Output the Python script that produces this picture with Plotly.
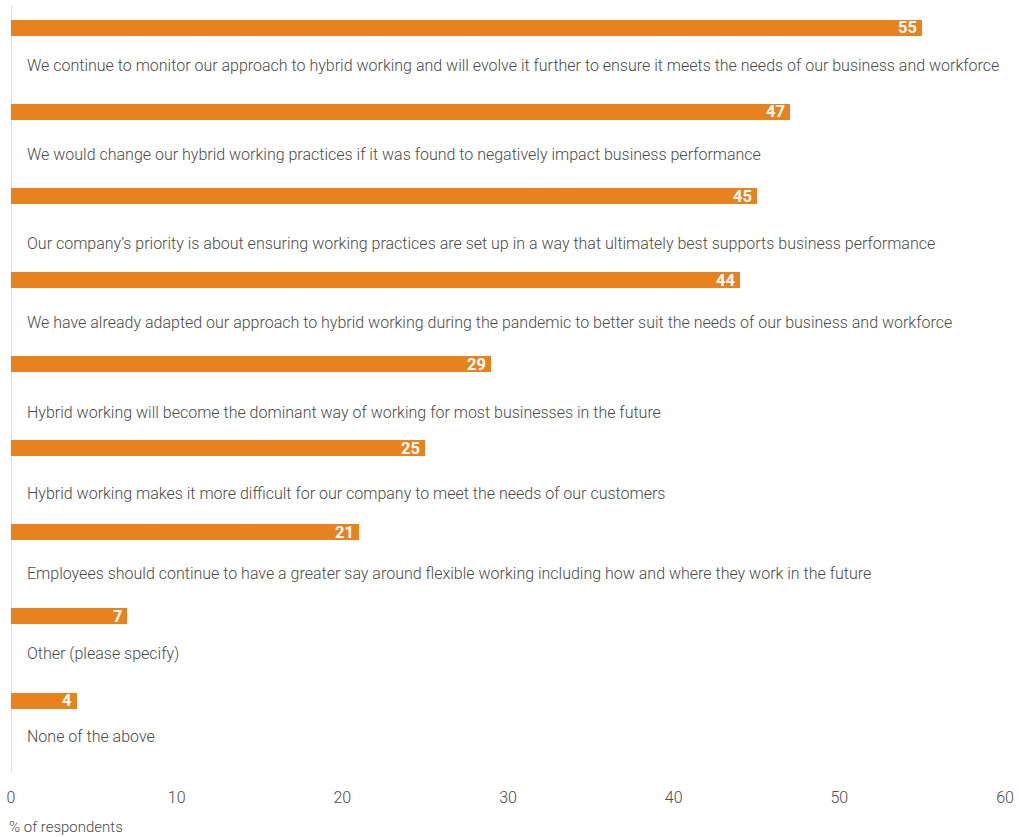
import plotly.graph_objects as go

statements = [
    "We continue to monitor our approach to hybrid working and will evolve it further to ensure it meets the needs of our business and workforce",
    "We would change our hybrid working practices if it was found to negatively impact business performance",
    "Our company\u2019s priority is about ensuring working practices are set up in a way that ultimately best supports business performance",
    "We have already adapted our approach to hybrid working during the pandemic to better suit the needs of our business and workforce",
    "Hybrid working will become the dominant way of working for most businesses in the future",
    "Hybrid working makes it more difficult for our company to meet the needs of our customers",
    "Employees should continue to have a greater say around flexible working including how and where they work in the future",
    "Other (please specify)",
    "None of the above",
]
respondents_pct = [55, 47, 45, 44, 29, 25, 21, 7, 4]
x_ticks = [0, 10, 20, 30, 40, 50, 60]

# vertical gap (px) between each bar and the statement printed beneath it
label_gap_px = [38, 43, 47, 42, 48, 45, 41, 37, 36]

BAR_COLOR = "#E8821E"
TEXT_COLOR = "#4a4a4a"
FONT = "Roboto"

rows = list(range(len(statements)))

fig = go.Figure(
    go.Bar(
        x=respondents_pct,
        y=rows,
        orientation="h",
        width=0.19,
        marker=dict(color=BAR_COLOR, line=dict(width=0)),
        hoverinfo="skip",
    )
)

annotations = []
for i, (label, val) in enumerate(zip(statements, respondents_pct)):
    # value printed in white at the end of each bar
    annotations.append(dict(
        x=val, y=i, xref="x", yref="y", text=f"<b>{val}</b>",
        showarrow=False, xanchor="right", yanchor="middle", xshift=-3,
        font=dict(family=FONT, size=16.5, color="white"),
    ))
    # statement text below the bar
    annotations.append(dict(
        x=0, y=i, xref="x", yref="y", text=label,
        showarrow=False, xanchor="left", yanchor="middle",
        xshift=14, yshift=-label_gap_px[i],
        font=dict(family=FONT, size=16, color=TEXT_COLOR, weight=300),
    ))

annotations.append(dict(
    x=0, y=0, xref="paper", yref="paper", text="% of respondents",
    showarrow=False, xanchor="left", yanchor="top", xshift=-4, yshift=-44,
    font=dict(family=FONT, size=15, color=TEXT_COLOR, weight=300),
))

fig.update_layout(
    width=1019, height=837,
    margin=dict(l=11, r=14, t=6, b=65),
    paper_bgcolor="white", plot_bgcolor="white",
    showlegend=False,
    bargap=0,
    annotations=annotations,
    font=dict(family=FONT, color=TEXT_COLOR),
    xaxis=dict(
        range=[0, 60], tickvals=x_ticks, showgrid=False,
        zeroline=True, zerolinecolor="#dddddd", zerolinewidth=1,
        showline=False, ticks="", ticklabelstandoff=14,
        tickfont=dict(family=FONT, size=16, color=TEXT_COLOR, weight=300),
        fixedrange=True,
    ),
    yaxis=dict(
        range=[8.85, -0.26], showticklabels=False, showgrid=False,
        zeroline=False, showline=False, ticks="", fixedrange=True,
    ),
)

fig.write_html("out.html")
